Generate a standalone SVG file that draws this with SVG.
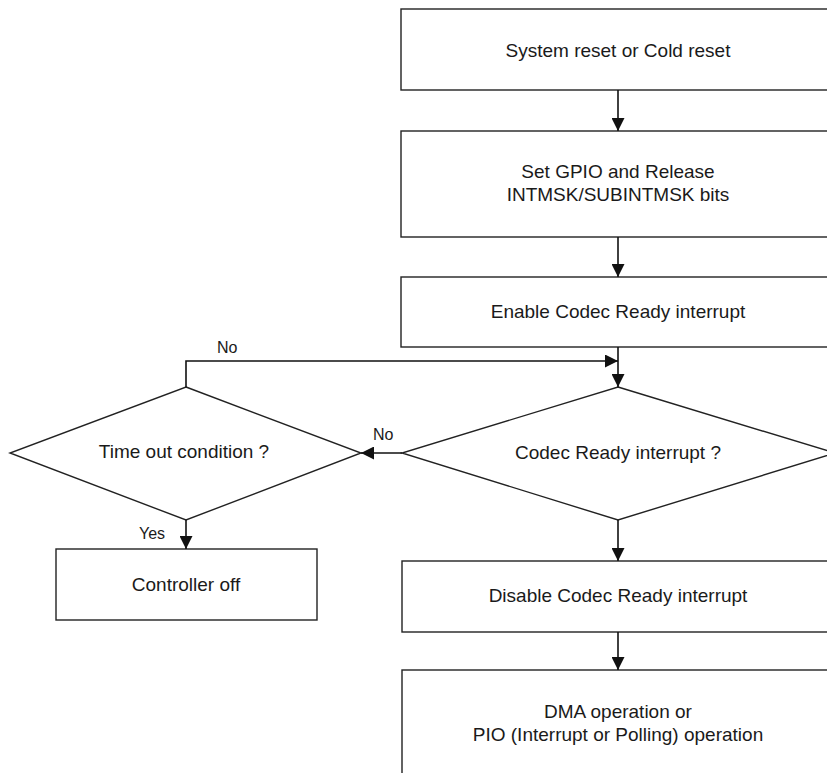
<svg xmlns="http://www.w3.org/2000/svg" width="827" height="773" viewBox="0 0 827 773">
<style>
.box{fill:#fff;stroke:#222;stroke-width:1.4}
.dia{fill:#fff;stroke:#222;stroke-width:1.4}
.t{font-family:"Liberation Sans",Arial,sans-serif;font-size:19px;fill:#1a1a1a;text-anchor:middle}
.lbl{font-family:"Liberation Sans",Arial,sans-serif;font-size:16px;fill:#1a1a1a}
.c{fill:none;stroke:#111;stroke-width:1.6;marker-end:url(#ah)}
</style>
<defs>
<marker id="ah" markerUnits="userSpaceOnUse" markerWidth="14" markerHeight="13" refX="13" refY="6.5" orient="auto">
<path d="M0,0 L13,6.5 L0,13 z" fill="#111"/>
</marker>
</defs>
<rect width="827" height="773" fill="#fff"/>
<g id="n1"><rect class="box" x="401" y="9" width="434" height="81"/><text class="t" x="618" y="57">System reset or Cold reset</text></g>
<g id="n2"><rect class="box" x="401" y="131" width="434" height="106"/><text class="t" x="618" y="178">Set GPIO and Release</text><text class="t" x="618" y="201">INTMSK/SUBINTMSK bits</text></g>
<g id="n3"><rect class="box" x="401" y="277" width="434" height="70"/><text class="t" x="618" y="318">Enable Codec Ready interrupt</text></g>
<g id="d1"><polygon class="dia" points="618,387 835,453 618,520 402,453"/><text class="t" x="618" y="459">Codec Ready interrupt ?</text></g>
<g id="d2"><polygon class="dia" points="186,387 361,453 186,520 10,453"/><text class="t" x="184" y="458">Time out condition ?</text></g>
<g id="n4"><rect class="box" x="56" y="549" width="261" height="71"/><text class="t" x="186" y="591">Controller off</text></g>
<g id="n5"><rect class="box" x="402" y="561" width="434" height="71"/><text class="t" x="618" y="602">Disable Codec Ready interrupt</text></g>
<g id="n6"><rect class="box" x="402" y="670" width="434" height="130"/><text class="t" x="618" y="718">DMA operation or</text><text class="t" x="618" y="741">PIO (Interrupt or Polling) operation</text></g>
<g id="connectors">
<path class="c" d="M618,90 V131"/>
<path class="c" d="M618,237 V277"/>
<path class="c" d="M618,347 V387"/>
<path class="c" d="M186,387 V361 H618"/>
<path class="c" d="M402,453 H361"/>
<path class="c" d="M186,520 V549"/>
<path class="c" d="M618,520 V561"/>
<path class="c" d="M618,632 V670"/>
<text class="lbl" x="217" y="353">No</text>
<text class="lbl" x="373" y="440">No</text>
<text class="lbl" x="139" y="539">Yes</text>
</g>
</svg>
